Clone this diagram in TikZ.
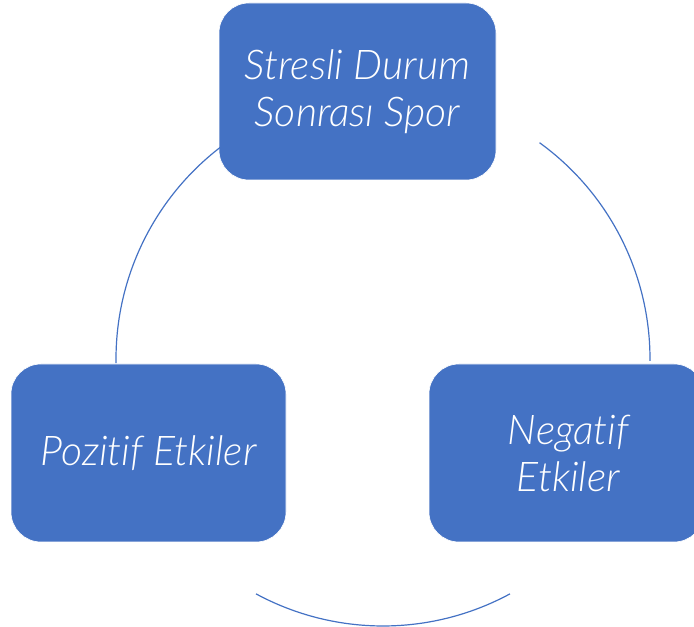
\documentclass[tikz,border=0pt]{standalone}
\usepackage{fontspec}
\setmainfont{Lato}
\newfontfamily\boxfont{Lato Light Italic}[Ligatures=NoCommon]
\usetikzlibrary{calc}
\definecolor{officeblue}{HTML}{4472C4}
\tikzset{
  box/.style={fill=officeblue, draw=white, line width=0.6pt, rounded corners=30pt,
    inner sep=0pt, text=white, align=center,
    font=\boxfont\fontsize{41}{47}\selectfont},
  link/.style={draw=officeblue, line width=1.2pt}
}
\begin{document}
\begin{tikzpicture}[x=1pt,y=1pt]
\useasboundingbox (0,0) rectangle (694,627);
\node[box, minimum width=277pt, minimum height=177pt] (top) at (357.5,535.5) {Stresli Durum\\Sonrası Spor};
\node[box, minimum width=275pt, minimum height=178pt] (left) at (148.5,174) {Pozitif Etkiler};
\node[box, minimum width=275pt, minimum height=178pt] (right) at (566.5,174) {\hspace*{4pt}Negatif\\\hspace*{4pt}Etkiler};
\coordinate (c) at (383,268);
\coordinate (a1) at ($(c)+(127.6:267)$);
\coordinate (b1) at ($(c)+(54.1:267)$);
\coordinate (d1) at ($(c)+(241.6:267)$);
\draw[link] (a1) arc[start angle=127.6, end angle=180.9, radius=267];
\draw[link] (b1) arc[start angle=54.1, end angle=-0.4, radius=267];
\draw[link] (d1) arc[start angle=241.6, end angle=298.4, radius=267];
\end{tikzpicture}
\end{document}
